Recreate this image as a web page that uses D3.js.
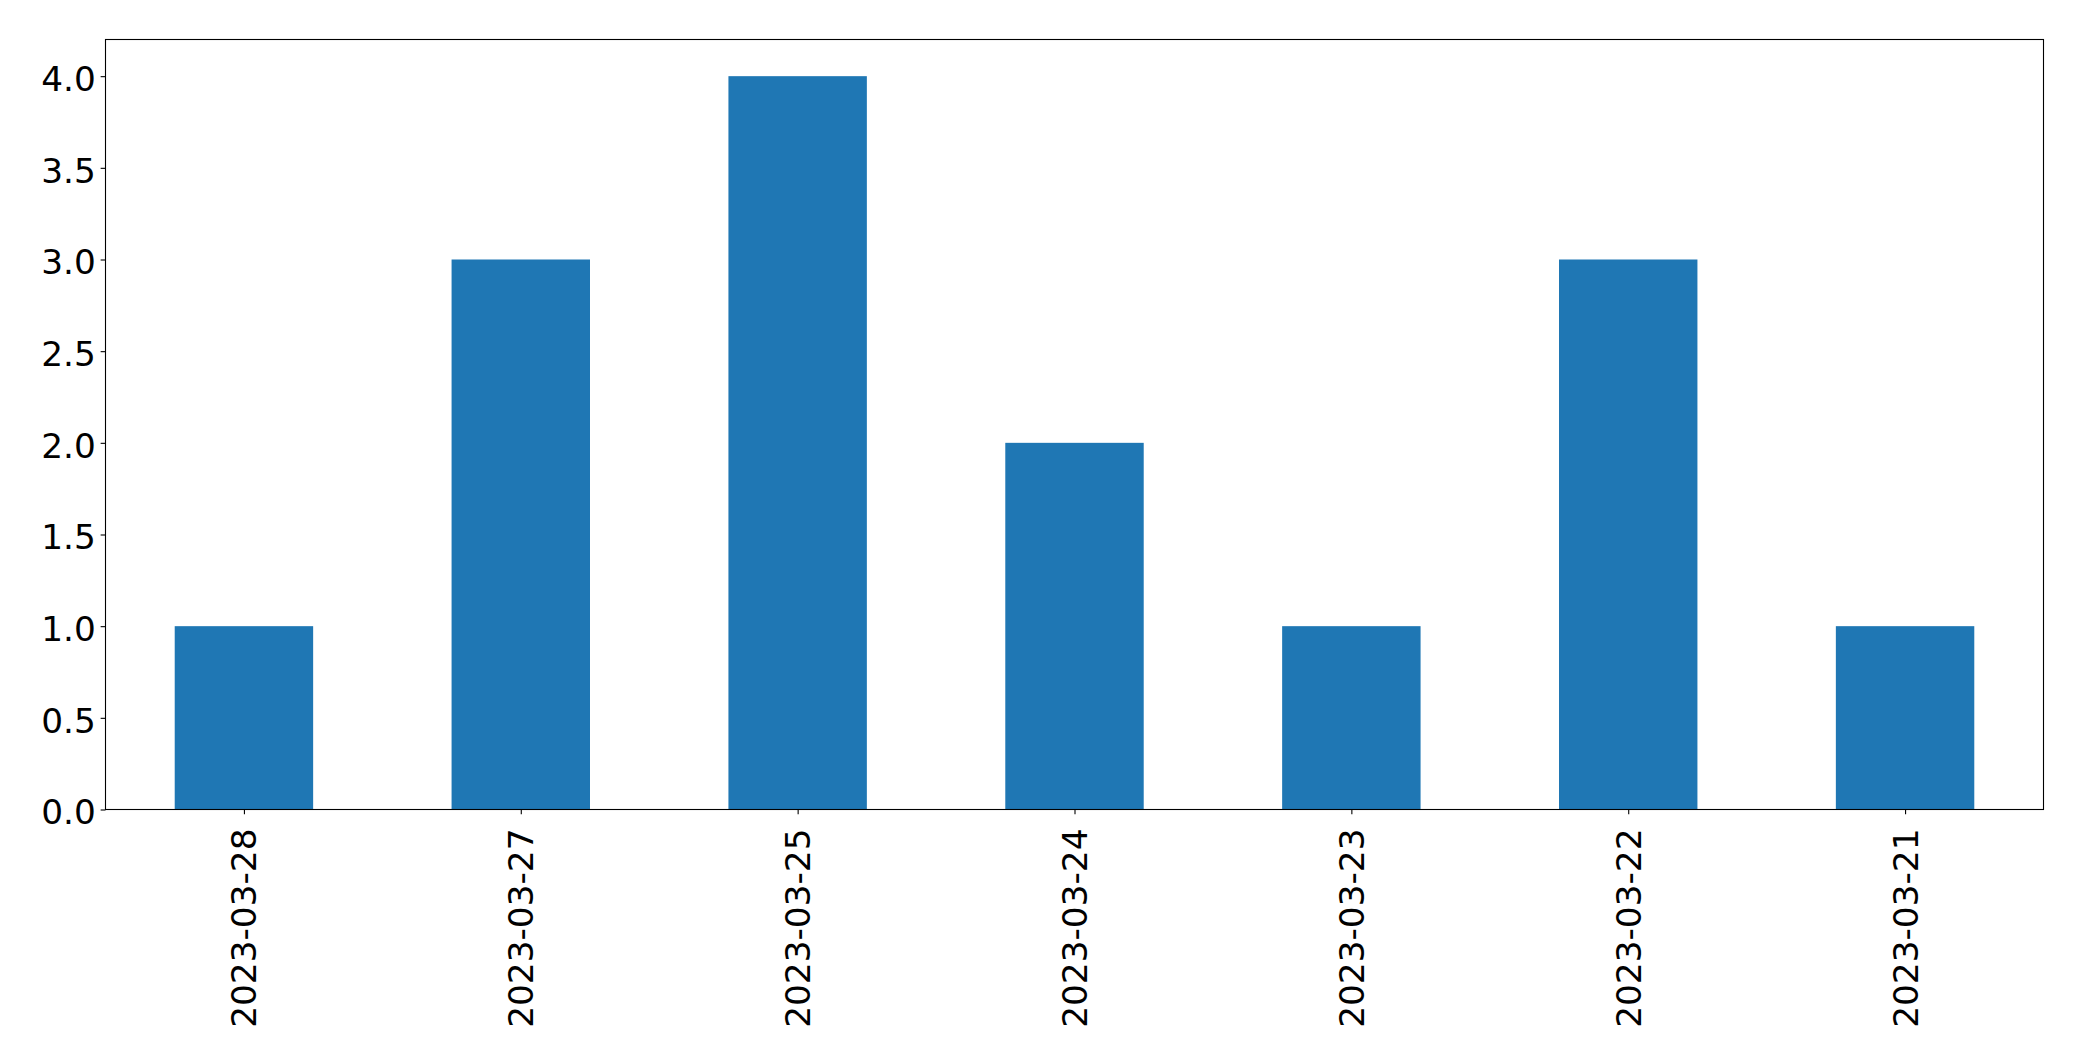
<!DOCTYPE html>
<html>
<head>
<meta charset="utf-8">
<script src="https://cdn.jsdelivr.net/npm/d3@7"></script>
<style>
  html, body { margin: 0; padding: 0; background: #fff; }
  svg { display: block; }
  text { font-family: "DejaVu Sans", sans-serif; fill: #000; }
</style>
</head>
<body>
<svg id="chart" width="2082" height="1061"></svg>
<script>
const categories = ["2023-03-28", "2023-03-27", "2023-03-25", "2023-03-24", "2023-03-23", "2023-03-22", "2023-03-21"];
const values = [1, 3, 4, 2, 1, 3, 1];
const yTicks = [0, 0.5, 1, 1.5, 2, 2.5, 3, 3.5, 4];

const svg = d3.select("#chart");
const mLeft = 105.5, mRight = 2043.5, mTop = 39.5, mBottom = 809.5;
const fontSize = 34.3;
const tickLen = 4.86, pad = 4.86;

const x = d3.scaleLinear().domain([-0.5, categories.length - 0.5]).range([mLeft, mRight]);
const y = d3.scaleLinear().domain([0, 4.2]).range([mBottom, mTop]);

// bars
svg.append("g").selectAll("rect").data(values).join("rect")
  .attr("x", (d, i) => x(i - 0.25))
  .attr("width", (d, i) => x(i + 0.25) - x(i - 0.25))
  .attr("y", d => y(d))
  .attr("height", d => y(0) - y(d))
  .attr("fill", "#1f77b4");

// frame
svg.append("rect")
  .attr("x", mLeft).attr("y", mTop)
  .attr("width", mRight - mLeft).attr("height", mBottom - mTop)
  .attr("fill", "none").attr("stroke", "#000").attr("stroke-width", 1.1);

// y axis
const yAxis = d3.axisLeft(y).tickValues(yTicks).tickFormat(d3.format(".1f"))
  .tickSize(tickLen).tickPadding(pad);
const gy = svg.append("g").attr("transform", `translate(${mLeft},0)`).call(yAxis);
gy.select(".domain").remove();
gy.selectAll(".tick line").attr("stroke", "#000").attr("stroke-width", 1.1);
gy.selectAll(".tick text")
  .attr("font-size", fontSize)
  .attr("font-family", "DejaVu Sans")
  .attr("fill", "#000")
  .attr("dy", "0.42em");

// x axis
const xAxis = d3.axisBottom(x).tickValues(d3.range(categories.length))
  .tickFormat(i => categories[i]).tickSize(tickLen).tickPadding(pad);
const gx = svg.append("g").attr("transform", `translate(0,${mBottom})`).call(xAxis);
gx.select(".domain").remove();
gx.selectAll(".tick line").attr("stroke", "#000").attr("stroke-width", 1.1);
gx.selectAll(".tick text")
  .attr("font-size", fontSize)
  .attr("font-family", "DejaVu Sans")
  .attr("fill", "#000")
  .attr("text-anchor", "end")
  .attr("transform", "translate(0,19) rotate(-90)")
  .attr("x", 0).attr("y", 0)
  .attr("dy", "0.35em");
</script>
</body>
</html>
